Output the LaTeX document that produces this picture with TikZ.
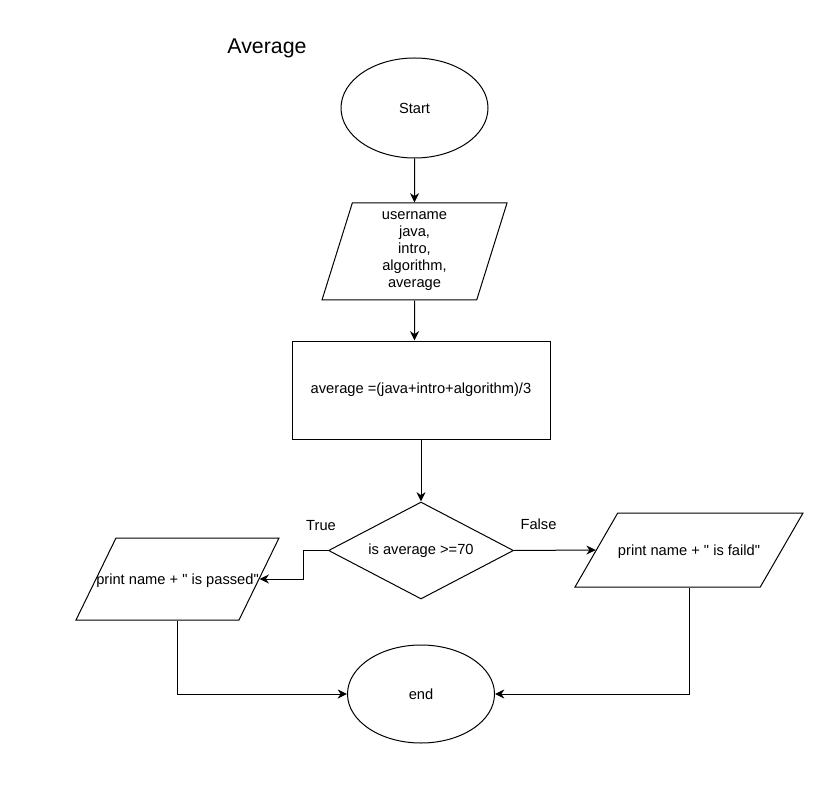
\documentclass[tikz,border=0pt]{standalone}
\usepackage{fontspec}
\setmainfont{Liberation Sans}[Ligatures=TeXOff]
\usepackage{tikz}
\usetikzlibrary{shapes.geometric,arrows.meta}
\definecolor{flowink}{HTML}{000000}

\begin{document}
\begin{tikzpicture}[x=0.75pt, y=-0.75pt, line width=0.75pt, draw=flowink,
  font=\fontsize{11}{12.75}\selectfont,
  terminal/.style={draw, ellipse, inner sep=0pt, minimum width=110.25pt},
  iobox/.style={draw, trapezium, trapezium stretches body, inner sep=0pt, align=center},
  process/.style={draw, rectangle, minimum width=193.5pt, minimum height=73.5pt},
  decision/.style={draw, diamond, aspect=1.9, inner sep=0pt, minimum width=138.75pt, minimum height=72.75pt},
  flow/.style={-{Stealth[length=7pt, width=6.75pt, inset=2.25pt]}}]
\useasboundingbox (0,0) rectangle (830,812);
\node (title) at (267,48) {\fontsize{16}{19}\selectfont Average};
\node (start) [terminal, minimum height=75pt] at (414.5,108) {Start};
\node (inp) [iobox, trapezium left angle=69, trapezium right angle=111,
  minimum width=138.75pt, minimum height=72.75pt] at (414.5,251.5)
  {username\\java,\\intro,\\algorithm,\\average};
\node (calc) [process] at (421,390) {average =(java+intro+algorithm)/3};
\node (dec) [decision] at (421,550.5) {is average >=70};
\node (pass) [iobox, trapezium left angle=64, trapezium right angle=116,
  text height=34.65pt, text depth=26.85pt,
  minimum width=152.25pt] at (177.5,579)
  {\makebox[0pt]{print name + " is passed"}};
\node (fail) [iobox, trapezium left angle=60, trapezium right angle=120,
  text height=31.65pt, text depth=23.85pt,
  minimum width=171pt] at (689,550)
  {print name + " is faild"};
\node (end) [terminal, minimum height=73.5pt] at (421,694) {end};
\node (lbltrue) at (321,526) {True};
\node (lblfalse) at (538.5,524.5) {False};

\draw[flow] (start) -- (inp);
\draw[flow] (inp) -- (inp |- calc.north);
\draw[flow] (calc) -- (dec);
\draw[flow] (dec.west) -- ++(-25,0) |- (pass.east);
\draw[flow] (dec.east) -- (fail.west);
\draw[flow] (pass) |- (end);
\draw[flow] (fail) |- (end);
\end{tikzpicture}
\end{document}
